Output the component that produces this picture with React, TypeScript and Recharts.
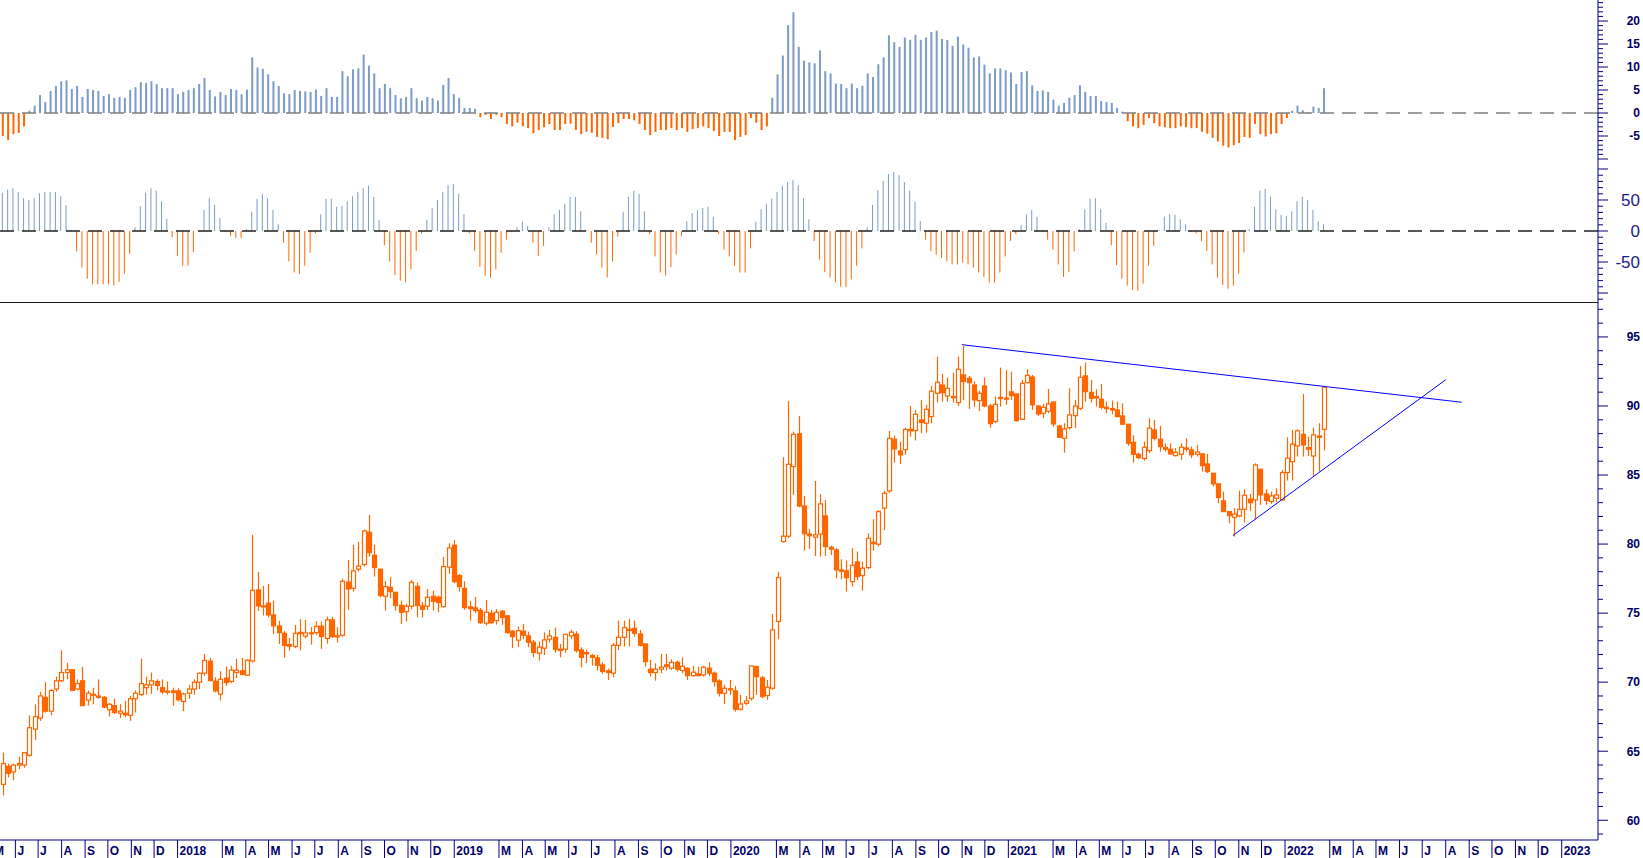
import React from "react";
import { ComposedChart, Bar, XAxis, YAxis, ReferenceLine } from "recharts";

const ORANGE = "#ff6600";
const BLUE = "#7b9cc6";
const NAVY = "#000080";

// weekly candles [open, high, low, close], first week starts 2017-05-15
const candles: number[][] = [
  [62.6, 64.9, 61.8, 64.1], [63.9, 64.1, 63.1, 63.4], [63.5, 64.1, 62.9, 64.0], [64.0, 64.6, 63.7, 64.1], [64.0, 64.9, 63.8, 64.9],
  [64.7, 67.6, 64.6, 66.7], [66.6, 68.4, 65.8, 67.5], [67.4, 69.3, 67.2, 69.0], [68.9, 70.0, 67.8, 67.9], [67.9, 69.5, 67.6, 69.4],
  [69.5, 70.4, 69.3, 70.1], [70.1, 72.3, 70.0, 70.7], [70.7, 71.4, 70.2, 70.9], [70.9, 70.9, 69.4, 69.4], [69.5, 70.2, 69.4, 69.9],
  [70.1, 71.1, 68.3, 68.3], [68.7, 69.4, 68.3, 69.2], [69.1, 69.6, 68.4, 69.12], [69.0, 70.2, 68.8, 68.9], [68.9, 69.0, 68.1, 68.2],
  [68.0, 68.5, 67.5, 68.4], [68.3, 68.8, 67.7, 67.8], [67.75, 68.4, 67.4, 67.9], [67.75, 68.65, 67.45, 67.63], [67.6, 69.0, 67.2, 68.8],
  [68.8, 69.4, 67.8, 69.2], [69.1, 71.7, 69.0, 69.9], [69.6, 70.4, 69.1, 69.8], [69.8, 70.7, 69.15, 70.1], [70.05, 70.2, 69.4, 69.76],
  [69.6, 70.2, 69.15, 69.3], [69.35, 70.05, 69.1, 69.28], [69.37, 69.6, 68.3, 69.25], [69.37, 69.56, 68.6, 68.72], [68.6, 69.25, 67.9, 69.15],
  [69.2, 69.8, 68.8, 69.5], [69.5, 70.2, 69.1, 70.0], [70.0, 70.7, 69.5, 70.65], [70.65, 72.05, 70.46, 71.57], [71.52, 71.76, 70.05, 70.12],
  [70.07, 70.36, 69.25, 69.37], [69.13, 70.79, 68.67, 70.21], [70.29, 71.13, 69.73, 69.97], [70.05, 71.18, 69.92, 70.87], [70.7, 71.69, 70.29, 70.87],
  [70.82, 71.76, 70.5, 70.55], [70.5, 71.66, 70.46, 71.59], [71.54, 80.67, 71.42, 76.66], [76.68, 77.99, 75.16, 75.52], [75.52, 76.97, 74.82, 75.48],
  [75.72, 77.12, 74.7, 74.87], [74.87, 75.91, 73.5, 74.08], [74.07, 74.44, 72.77, 73.59], [73.54, 73.71, 71.78, 72.67], [72.72, 73.2, 72.29, 72.6],
  [72.58, 74.14, 72.46, 73.54], [73.61, 74.56, 72.29, 73.52], [73.33, 74.51, 73.16, 73.57], [73.57, 74.0, 72.72, 73.52], [73.59, 74.41, 73.42, 74.05],
  [74.05, 74.39, 72.41, 73.3], [73.16, 74.75, 72.79, 74.51], [74.51, 74.72, 73.2, 73.3], [73.35, 73.98, 72.87, 73.3], [73.4, 77.5, 73.3, 77.31],
  [77.24, 78.85, 75.23, 76.75], [76.8, 79.94, 76.56, 78.06], [78.18, 80.16, 78.01, 78.4], [78.52, 81.07, 78.37, 80.95], [80.86, 82.11, 79.09, 79.38],
  [79.19, 79.94, 77.65, 78.3], [78.18, 78.18, 76.15, 76.27], [76.22, 77.33, 75.18, 76.92], [76.87, 77.6, 76.08, 76.56], [76.51, 76.51, 75.18, 75.55],
  [75.57, 75.91, 74.2, 75.06], [75.11, 75.67, 74.39, 75.5], [75.5, 77.41, 75.28, 77.24], [76.94, 77.21, 74.7, 75.55], [75.52, 75.81, 74.68, 75.28],
  [75.5, 76.75, 75.23, 76.15], [76.22, 76.61, 75.18, 75.86], [76.15, 76.27, 75.06, 75.76], [75.47, 79.07, 75.4, 78.37], [78.33, 80.06, 77.84, 79.72],
  [79.92, 80.3, 77.16, 77.28], [77.72, 77.84, 76.56, 76.92], [76.8, 77.31, 75.23, 75.4], [75.45, 75.88, 74.46, 75.33], [75.38, 76.17, 74.99, 75.18],
  [75.21, 75.38, 74.22, 74.31], [74.27, 75.96, 74.1, 75.06], [74.99, 75.23, 74.22, 74.31], [74.46, 75.3, 74.17, 75.06], [75.14, 75.23, 74.15, 74.68],
  [74.8, 74.87, 73.5, 73.59], [73.69, 73.78, 72.46, 73.3], [73.04, 74.03, 72.53, 73.74], [73.69, 74.22, 73.11, 73.4], [73.35, 73.66, 72.53, 72.89],
  [72.89, 73.06, 71.8, 72.15], [72.1, 72.94, 71.56, 72.53], [72.46, 73.61, 71.97, 73.06], [73.11, 73.78, 72.87, 73.35], [73.25, 73.95, 72.14, 72.38],
  [72.38, 72.77, 71.8, 72.29], [72.38, 73.47, 72.14, 73.47], [73.35, 73.78, 73.11, 73.62], [73.47, 73.69, 72.14, 72.29], [72.33, 72.53, 71.08, 71.8],
  [72.14, 72.33, 71.37, 72.05], [71.93, 72.05, 71.2, 71.8], [71.76, 71.97, 70.84, 71.22], [71.25, 71.44, 70.6, 70.77], [70.82, 70.98, 70.16, 70.7],
  [70.65, 72.82, 70.36, 72.67], [72.67, 74.46, 72.33, 73.25], [73.25, 74.46, 72.58, 73.95], [73.83, 74.6, 72.58, 73.74], [73.9, 74.46, 73.3, 73.54],
  [73.49, 73.78, 72.58, 72.67], [72.77, 72.77, 71.13, 71.49], [70.94, 71.61, 70.4, 70.7], [70.7, 71.37, 70.11, 70.94], [70.94, 72.05, 70.65, 71.08],
  [71.25, 72.05, 70.84, 71.13], [71.01, 71.66, 70.89, 71.44], [71.44, 71.56, 70.77, 70.94], [70.84, 71.8, 70.65, 71.15], [71.0, 71.08, 70.16, 70.47],
  [70.47, 71.18, 70.4, 70.72], [70.6, 71.13, 70.45, 70.47], [70.53, 71.18, 70.4, 71.08], [71.01, 71.44, 70.45, 70.65], [70.65, 70.77, 69.68, 70.04],
  [70.09, 70.21, 68.96, 69.2], [69.2, 69.8, 68.42, 69.56], [69.52, 70.16, 69.08, 69.44], [69.37, 69.73, 67.87, 68.04], [68.04, 69.08, 67.94, 68.42],
  [68.47, 69.0, 68.35, 68.64], [68.83, 71.18, 68.66, 71.18], [71.13, 71.2, 69.08, 70.4], [70.31, 70.45, 68.83, 68.96], [69.03, 70.16, 68.71, 69.63],
  [69.56, 74.94, 69.44, 73.78], [74.39, 78.0, 73.11, 77.57], [80.18, 86.29, 80.11, 80.57], [80.57, 90.36, 80.42, 85.78], [85.61, 88.14, 83.56, 87.95],
  [87.98, 89.28, 82.67, 82.76], [82.76, 83.49, 79.53, 80.75], [80.73, 81.07, 79.65, 80.6], [80.5, 84.57, 79.14, 80.67], [80.73, 83.61, 79.1, 82.91],
  [82.04, 83.2, 79.14, 79.82], [79.77, 79.87, 79.2, 79.63], [79.58, 79.7, 77.52, 78.13], [78.13, 78.9, 77.45, 78.03], [78.06, 78.8, 76.56, 77.57],
  [77.28, 79.7, 76.92, 78.47], [78.71, 79.46, 77.4, 77.65], [77.72, 78.73, 76.63, 78.25], [78.3, 80.78, 78.18, 80.42], [80.13, 81.8, 79.53, 80.03],
  [79.99, 82.47, 79.82, 82.35], [82.6, 83.87, 81.02, 83.68], [83.85, 88.19, 83.68, 87.66], [87.6, 87.85, 85.9, 86.89], [86.74, 87.42, 85.8, 86.46],
  [86.84, 88.43, 86.46, 88.3], [88.3, 90.0, 87.78, 88.2], [88.22, 89.71, 87.5, 89.4], [88.99, 90.44, 88.03, 88.8], [88.75, 90.08, 88.07, 89.76],
  [89.23, 91.45, 88.75, 91.07], [90.92, 93.58, 90.25, 91.72], [91.52, 92.32, 90.32, 90.97], [90.73, 92.06, 90.32, 91.28], [90.68, 92.42, 90.25, 90.6],
  [90.25, 93.58, 90.0, 92.66], [92.25, 94.35, 90.44, 91.77], [92.01, 92.18, 89.79, 91.69], [91.52, 91.77, 89.96, 90.44], [90.39, 91.11, 89.64, 90.92],
  [91.45, 92.06, 89.91, 90.0], [90.0, 90.15, 88.43, 88.72], [88.87, 90.68, 88.75, 90.12], [90.63, 92.78, 89.96, 90.54], [90.58, 92.61, 90.08, 90.49],
  [91.02, 92.49, 90.44, 90.75], [90.87, 90.87, 88.87, 88.94], [89.04, 91.88, 88.99, 91.64], [91.69, 92.66, 91.64, 92.22], [92.1, 92.25, 89.71, 90.08],
  [90.0, 90.08, 89.28, 89.42], [89.47, 90.15, 89.11, 89.91], [89.62, 91.23, 89.47, 90.15], [90.29, 90.29, 88.5, 88.7], [88.55, 88.63, 87.66, 87.73],
  [87.66, 88.75, 86.62, 88.34], [88.43, 91.28, 88.3, 89.35], [89.3, 90.44, 88.39, 90.0], [89.83, 92.9, 89.71, 92.08], [92.18, 93.14, 90.32, 91.04],
  [90.99, 91.88, 90.25, 90.56], [90.68, 91.21, 89.96, 90.58], [90.49, 91.6, 89.76, 89.91], [89.91, 90.32, 89.47, 89.81], [89.81, 90.39, 89.4, 89.71],
  [89.71, 90.32, 89.18, 89.23], [89.28, 90.2, 88.63, 88.68], [88.68, 88.7, 87.11, 87.3], [87.37, 87.88, 85.9, 86.5], [86.5, 86.62, 86.14, 86.26],
  [86.2, 87.42, 86.04, 87.01], [86.77, 89.11, 86.58, 88.39], [88.27, 88.99, 87.5, 87.66], [87.59, 88.55, 86.7, 87.06], [86.99, 87.3, 86.7, 86.87],
  [86.87, 87.3, 86.46, 86.53], [86.41, 86.94, 86.34, 86.65], [86.5, 87.3, 86.1, 87.01], [86.96, 87.66, 86.7, 86.87], [86.82, 87.06, 86.22, 86.46],
  [86.5, 87.18, 86.34, 86.67], [86.53, 86.58, 85.25, 85.68], [85.8, 86.53, 85.13, 85.25], [85.13, 85.13, 84.16, 84.36], [84.36, 84.36, 82.96, 83.37],
  [83.13, 83.8, 82.35, 82.35], [82.35, 82.35, 81.51, 82.06], [81.94, 82.6, 80.54, 82.18], [82.04, 83.87, 81.94, 82.52], [82.52, 83.97, 81.56, 83.54],
  [83.25, 83.63, 82.4, 83.0], [83.2, 85.85, 81.8, 85.73], [85.42, 85.42, 82.84, 83.56], [83.63, 83.97, 82.84, 83.15], [83.08, 83.8, 82.91, 83.49],
  [83.32, 84.04, 83.03, 83.56], [83.2, 85.37, 83.15, 85.18], [85.18, 87.73, 84.6, 86.22], [85.97, 88.27, 84.6, 87.23], [87.11, 88.31, 86.34, 88.2],
  [87.95, 90.87, 86.34, 87.18], [86.99, 87.78, 86.38, 86.87], [86.38, 88.43, 84.94, 87.9], [87.83, 88.75, 85.25, 87.73], [88.31, 91.4, 86.77, 91.36],
];

// upper histogram (trend oscillator)
const trendHist = [
  -5.0, -5.9, -4.6, -4.3, -2.9,
  0.5, 1.6, 3.9, 2.4, 4.8, 5.9, 6.9, 7.1, 5.2, 5.9,
  3.5, 5.2, 5.0, 4.8, 3.7, 4.1, 3.3, 3.5, 3.3, 5.0,
  5.6, 6.7, 6.5, 6.9, 6.3, 5.4, 5.4, 5.4, 4.1, 4.6,
  5.0, 5.4, 6.3, 7.6, 5.0, 3.6, 4.6, 3.9, 5.2, 5.0,
  4.1, 5.1, 12.1, 9.9, 9.6, 8.4, 6.9, 5.9, 4.3, 4.1,
  5.0, 4.8, 4.7, 4.6, 5.1, 3.7, 5.4, 3.5, 3.5, 9.1,
  8.0, 9.5, 9.7, 12.7, 10.3, 8.6, 5.4, 6.3, 5.4, 3.9,
  3.2, 3.5, 5.4, 3.2, 2.7, 3.5, 3.2, 2.7, 6.1, 7.6,
  4.1, 3.3, 1.1, 1.1, 0.9,
  -0.9, -0.4, -1.3, -0.4, -0.9, -2.4, -2.9, -2.1, -2.9, -3.3, -4.4, -3.7,
  -3.1, -2.4, -3.7, -3.7, -2.4, -2.3, -3.7, -4.6, -4.1, -4.3, -5.2, -5.4, -5.7, -3.0, -2.2,
  -1.3, -1.3, -1.6, -2.4, -3.7, -4.8, -4.1, -3.7, -3.7, -3.3, -3.7, -3.3, -4.1, -3.5, -3.3,
  -2.9, -3.3, -3.9, -5.0, -4.1, -4.1, -5.9, -5.2, -4.8, -1.1, -2.1, -3.7, -2.9,
  3.3, 8.4, 12.5, 19.1, 21.9, 14.4, 11.4, 11.0, 10.8, 13.6, 9.1, 8.6, 6.4, 6.3, 5.4, 6.4,
  5.4, 5.9, 8.6, 7.8, 10.6, 12.1, 16.9, 15.4, 14.4, 16.4, 15.9, 17.0, 15.9, 16.4, 17.6, 17.9,
  16.1, 15.9, 14.6, 16.6, 14.9, 14.2, 12.1, 12.3, 10.5, 8.6, 9.7, 9.7, 9.3, 8.8, 6.3, 8.9,
  9.1, 6.0, 4.8, 4.9, 4.6, 2.9, 1.6, 2.2, 3.3, 3.9, 6.0, 4.6, 3.7, 3.7,
  2.6, 2.4, 2.2, 1.1, 0.3, -1.8, -2.9, -3.3, -2.6, -1.1, -2.2, -2.9, -3.1, -3.3, -3.3,
  -2.9, -3.1, -3.3, -3.3, -4.1, -4.5, -5.4, -6.2, -7.1, -7.5, -7.0, -6.5, -5.2, -5.4,
  -2.4, -4.6, -5.1, -4.6, -4.4, -2.4, -1.1, 0.5, 1.6, 0.6, 0.2, 1.4, 1.1, 5.4,
];

// lower histogram (cycle oscillator)
const cycleHist = [
  62, 67, 69, 63, 53, 50, 53, 61, 63, 63,
  63, 56, 42, 2, -33, -59, -77, -86, -86, -86,
  -86, -88, -82, -69, -37, 6, 40, 62, 69, 65,
  48, 20, -10, -40, -56, -56, -34, 0, 34, 53,
  42, 21, 0, -8, -11, -11, 3, 31, 52, 60,
  53, 34, 11, -19, -49, -67, -69, -56, -35, -4,
  27, 52, 52, 39, 40, 48, 56, 63, 69, 73,
  55, 18, -23, -49, -71, -80, -83, -62, -32, -4,
  18, 37, 50, 63, 74, 76, 60, 27, -4, -32,
  -58, -72, -75, -62, -35, -14, 0, 6, 15, 8,
  -19, -40, -24, 6, 27, 34, 44, 55, 55, 32,
  2, -19, -38, -59, -75, -49, -9, 31, 55, 65,
  60, 32, -5, -41, -67, -72, -58, -38, -8, 16,
  29, 34, 37, 39, 23, -5, -30, -41, -56, -67,
  -67, -28, 15, 35, 44, 52, 63, 73, 79, 82,
  74, 53, 19, -16, -46, -66, -75, -83, -90, -90,
  -78, -56, -28, 6, 42, 66, 81, 92, 95, 90,
  79, 65, 47, 16, -14, -32, -38, -43, -49, -54,
  -54, -51, -54, -59, -67, -74, -83, -83, -67, -41,
  -16, -5, 10, 27, 34, 23, 0, -14, -30, -54,
  -74, -66, -33, 3, 35, 52, 53, 35, 13, -23,
  -55, -77, -88, -95, -96, -85, -56, -24, 2, 23,
  27, 26, 19, 11, -1, -4, -16, -32, -54, -75,
  -87, -93, -88, -69, -35, 3, 39, 65, 68, 55,
  35, 26, 24, 32, 48, 55, 50, 34, 16, 11,
];

// trend lines drawn on the price panel: [week index, price]
const upperTrend = [{ x: 180.8, y: 94.44 }, { x: 275.0, y: 90.27 }];
const lowerTrend = [{ x: 231.9, y: 80.62 }, { x: 272.0, y: 91.9 }];

// February is left unlabelled on the time axis
const MONTH_LETTERS = ["J", "", "M", "A", "M", "J", "J", "A", "S", "O", "N", "D"];
const FIRST_WEEK = Date.UTC(2017, 4, 15);
const WEEK_MS = 7 * 24 * 3600 * 1000;
const X_MIN = -0.47;
const X_MAX = 300.7;

const rows = candles.map((c, i) => ({
  i,
  o: c[0],
  h: c[1],
  l: c[2],
  c: c[3],
  range: [c[2], c[1]],
  trend: trendHist[i],
  cycle: cycleHist[i],
}));

const monthTicks: number[] = [];
const monthLabels: Record<string, string> = {};
for (let y = 2017; y <= 2023; y++) {
  for (let m = 0; m < 12; m++) {
    if (!MONTH_LETTERS[m]) continue;
    const w = (Date.UTC(y, m, 1) - FIRST_WEEK) / WEEK_MS;
    if (w < X_MIN - 3 || w > X_MAX - 3) continue;
    monthTicks.push(w);
    monthLabels[w.toFixed(3)] = m === 0 ? String(y) : MONTH_LETTERS[m];
  }
}

const range = (a: number, b: number, step = 1) => {
  const out: number[] = [];
  for (let v = a; v <= b; v += step) out.push(v);
  return out;
};

const W = 1643;
const AXIS_W = 45;
const boldFont = "'Liberation Sans', Arial, sans-serif";

function Candle(props: any) {
  const { x, width, y, height, payload } = props;
  if (x == null || y == null) return null;
  const cx = Math.round(x + width / 2) + 0.5;
  const top = Math.min(y, y + height);
  const span = Math.abs(height);
  const { o, h, l, c } = payload;
  const yOf = (p: number) => (h > l ? top + ((h - p) / (h - l)) * span : top);
  const bTop = yOf(Math.max(o, c));
  const bBot = yOf(Math.min(o, c));
  const up = c >= o;
  return (
    <g>
      <line x1={cx} x2={cx} y1={top} y2={top + span} stroke={ORANGE} strokeWidth={1.2} />
      <rect
        x={cx - 2}
        y={bTop}
        width={4}
        height={Math.max(bBot - bTop, 1)}
        fill={up ? "#fff" : ORANGE}
        stroke={ORANGE}
        strokeWidth={1.2}
      />
    </g>
  );
}

function makeHistBar(key: string, w: number) {
  return (props: any) => {
    const { x, width, y, height, payload } = props;
    if (x == null || y == null) return null;
    const cx = x + width / 2;
    const top = Math.min(y, y + height);
    const hgt = Math.max(Math.abs(height), 1);
    const v = payload[key];
    return <rect x={cx - w / 2} y={top} width={w} height={hgt} fill={v >= 0 ? BLUE : ORANGE} />;
  };
}

function makeYTick(isMajor: (v: number) => boolean, showLabel: (v: number) => boolean, bold: boolean, size: number) {
  return (props: any) => {
    const { x, y, payload } = props;
    const v = payload.value;
    const major = isMajor(v);
    return (
      <g>
        <line x1={x} x2={x + (major ? 10 : 5)} y1={y} y2={y} stroke={NAVY} strokeWidth={1} />
        {showLabel(v) && (
          <text
            x={x + 42}
            y={y + size * 0.36}
            textAnchor="end"
            fontFamily={boldFont}
            fontWeight={bold ? "bold" : "normal"}
            fontSize={size}
            fill={bold ? "#000066" : "#1a1a8c"}
          >
            {v}
          </text>
        )}
      </g>
    );
  };
}

function MonthTick(props: any) {
  const { x, y, payload } = props;
  const label = monthLabels[Number(payload.value).toFixed(3)];
  return (
    <g>
      <line x1={x} x2={x} y1={y} y2={y + 18} stroke={NAVY} strokeWidth={1} />
      <text
        x={x + 2}
        y={y + 15}
        fontFamily="'Liberation Sans Narrow', 'Arial Narrow', 'Liberation Sans', sans-serif"
        fontWeight="bold"
        fontSize={12}
        fill="#000066"
      >
        {label}
      </text>
    </g>
  );
}

const TopTick = makeYTick((v) => v % 5 === 0, (v) => v % 5 === 0 && v >= -5 && v <= 20, true, 12);
const MidTick = makeYTick((v) => v % 50 === 0, (v) => v % 50 === 0 && Math.abs(v) <= 50, false, 17);
const PriceTick = makeYTick((v) => v % 5 === 0, (v) => v % 5 === 0, true, 12);

export default function App() {
  return (
    <div style={{ position: "absolute", left: 0, top: 0, width: W, height: 858, background: "#fff", overflow: "hidden" }}>
      <div style={{ position: "absolute", left: 0, top: 0 }}>
        <ComposedChart width={W} height={163} data={rows} margin={{ top: 0, right: 0, bottom: 0, left: 0 }}>
          <XAxis type="number" dataKey="i" domain={[X_MIN, X_MAX]} allowDataOverflow hide />
          <YAxis
            orientation="right"
            width={AXIS_W}
            domain={[-10.87, 24.57]}
            allowDataOverflow
            ticks={range(-10, 24)}
            interval={0}
            tickSize={0}
            tickMargin={0}
            tickLine={false}
            tick={<TopTick />}
            axisLine={{ stroke: NAVY }}
          />
          <ReferenceLine y={0} stroke="#808080" strokeWidth={1.5} strokeDasharray="14 8" />
          <Bar dataKey="trend" barSize={2} shape={makeHistBar("trend", 2)} isAnimationActive={false} />
        </ComposedChart>
      </div>
      <div style={{ position: "absolute", left: 0, top: 163 }}>
        <ComposedChart width={W} height={139} data={rows} margin={{ top: 0, right: 0, bottom: 0, left: 0 }}>
          <XAxis type="number" dataKey="i" domain={[X_MIN, X_MAX]} allowDataOverflow hide />
          <YAxis
            orientation="right"
            width={AXIS_W}
            domain={[-114.5, 109.7]}
            allowDataOverflow
            ticks={range(-110, 100, 10)}
            interval={0}
            tickSize={0}
            tickMargin={0}
            tickLine={false}
            tick={<MidTick />}
            axisLine={{ stroke: NAVY }}
          />
          <ReferenceLine y={0} stroke="#222" strokeWidth={1.6} strokeDasharray="14 8" />
          <Bar dataKey="cycle" barSize={1} shape={makeHistBar("cycle", 1)} isAnimationActive={false} />
        </ComposedChart>
      </div>
      <div style={{ position: "absolute", left: 0, top: 302 }}>
        <ComposedChart width={W} height={556} data={rows} margin={{ top: 0, right: 0, bottom: 0, left: 0 }}>
          <XAxis
            type="number"
            dataKey="i"
            domain={[X_MIN, X_MAX]}
            allowDataOverflow
            ticks={monthTicks}
            interval={0}
            height={18}
            tickSize={0}
            tickMargin={0}
            tickLine={false}
            tick={<MonthTick />}
            axisLine={{ stroke: NAVY }}
          />
          <YAxis
            orientation="right"
            width={AXIS_W}
            domain={[58.57, 97.53]}
            allowDataOverflow
            ticks={range(59, 97)}
            interval={0}
            tickSize={0}
            tickMargin={0}
            tickLine={false}
            tick={<PriceTick />}
            axisLine={{ stroke: NAVY }}
          />
          <ReferenceLine y={97.5} stroke="#000" strokeWidth={1} ifOverflow="visible" />
          <Bar dataKey="range" barSize={4} shape={<Candle />} isAnimationActive={false} />
          <ReferenceLine segment={upperTrend} stroke="#0000ff" strokeWidth={1} ifOverflow="visible" />
          <ReferenceLine segment={lowerTrend} stroke="#0000ff" strokeWidth={1} ifOverflow="visible" />
        </ComposedChart>
      </div>
    </div>
  );
}
